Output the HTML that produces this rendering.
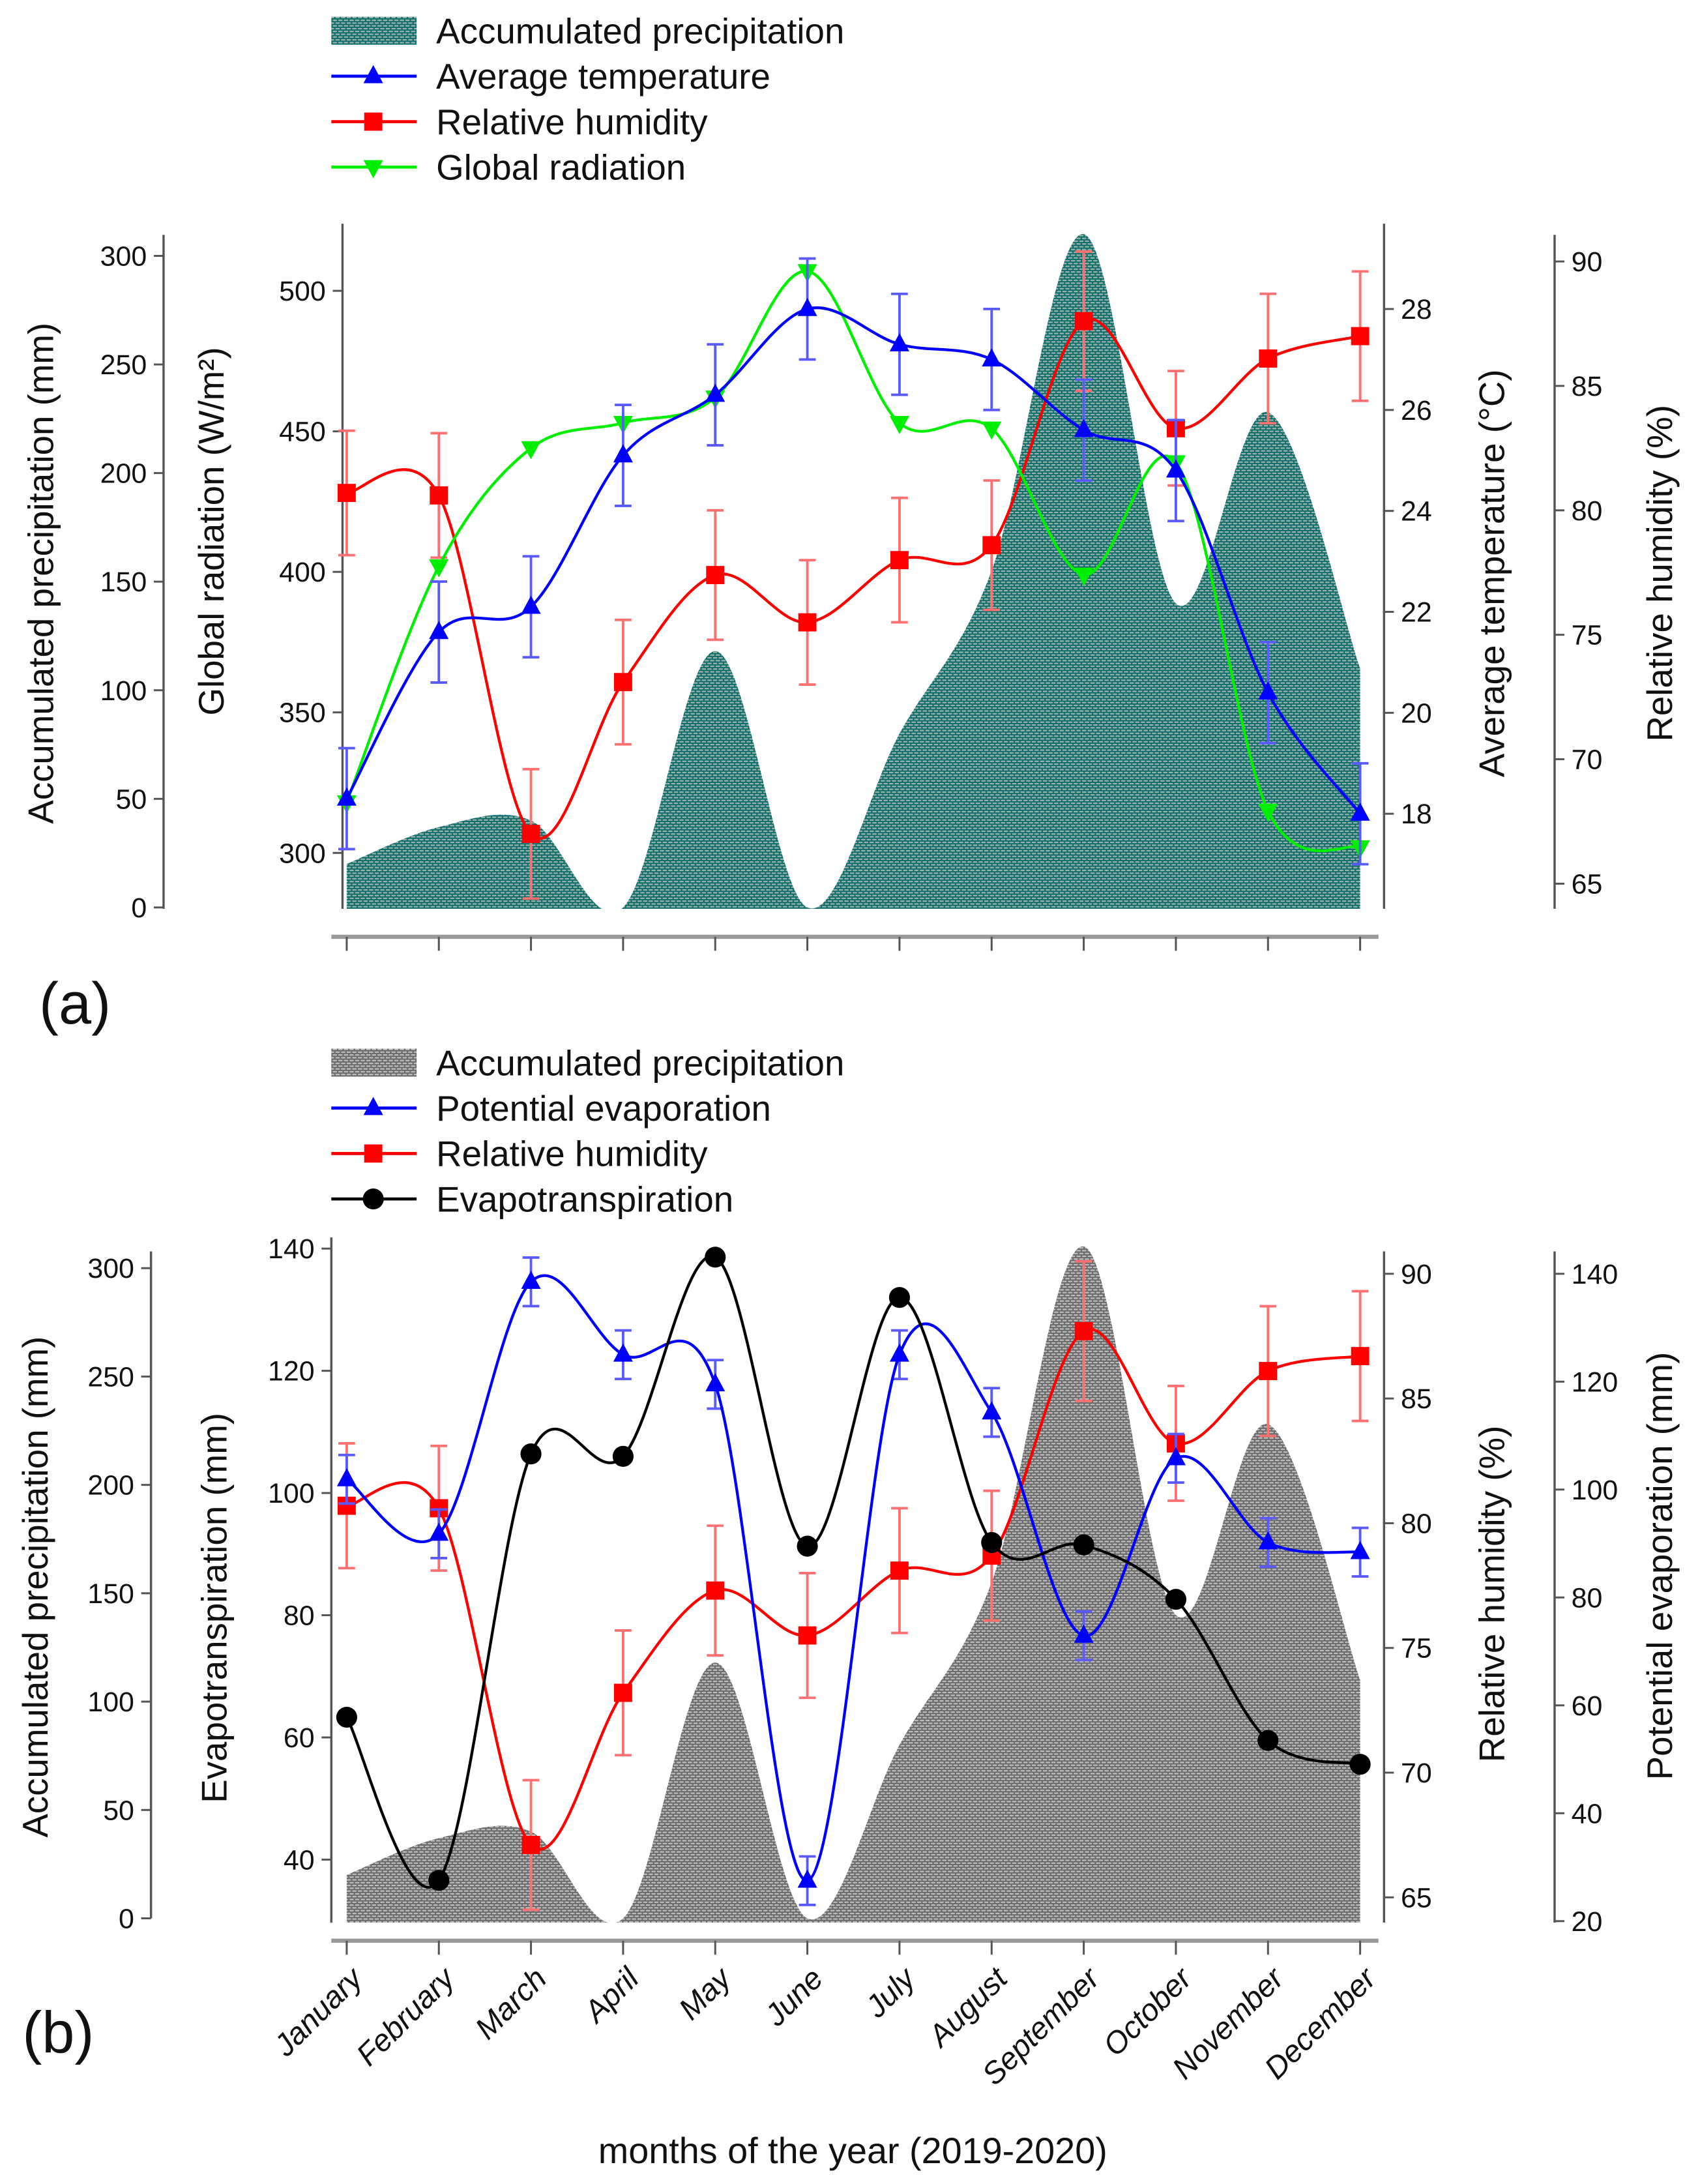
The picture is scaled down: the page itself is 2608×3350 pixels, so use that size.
<!DOCTYPE html>
<html><head><meta charset="utf-8">
<style>
html,body{margin:0;padding:0;background:#fff;}
svg{display:block;font-family:"Liberation Sans",Arial,sans-serif;}
</style></head>
<body>
<svg id="fig" width="2608" height="3350" viewBox="0 0 1216 1562" preserveAspectRatio="none" xmlns="http://www.w3.org/2000/svg">
<defs>
<pattern id="patTeal" width="4" height="4" patternUnits="userSpaceOnUse">
<rect width="4" height="4" fill="#0f6e68"/><rect x="0" y="0" width="3" height="1" fill="#9fb5b2"/><rect x="2" y="2" width="2" height="1" fill="#9fb5b2"/><rect x="0" y="2" width="1" height="1" fill="#9fb5b2"/>
</pattern>
<pattern id="patGrey" width="4" height="4" patternUnits="userSpaceOnUse">
<rect width="4" height="4" fill="#6a6a6a"/><rect x="0" y="0" width="3" height="1" fill="#c0c0c0"/><rect x="2" y="2" width="2" height="1" fill="#c0c0c0"/><rect x="0" y="2" width="1" height="1" fill="#c0c0c0"/>
</pattern>
</defs>
</svg>
<script>
// ---- data ----
const months = ["January","February","March","April","May","June","July","August","September","October","November","December"];
const precip = [20,37,40,0,118,0,80,155,310,140,228,110];
const tempA = [18.3,21.6,22.1,25.1,26.3,28.0,27.3,27.0,25.6,24.8,20.4,18.0];
const tempErr = [1,1,1,1,1,1,1,1,1,1,1,1];
const rhA = [80.7,80.6,67.0,73.1,77.4,75.5,78.0,78.6,87.6,83.3,86.1,87.0];
const rhErr = [2.5,2.5,2.6,2.5,2.6,2.5,2.5,2.6,2.8,2.3,2.6,2.6];
const radA = [318,402,444,453,462,507,453,451,399,439,315,302];
const peB = [101.9,91.8,138.5,125,119.5,27.5,125,114.3,72.9,105.8,90.2,88.4];
const peErr = [4.5,4.5,4.5,4.5,4.5,4.5,4.5,4.5,4.5,4.5,4.5,4.5];
const etB = [63.3,36.6,106.4,106,138.6,91.3,132,91.9,91.5,82.6,59.5,55.6];
const rhB = [80.7,80.6,67.1,73.2,77.3,75.5,78.1,78.7,87.7,83.2,86.1,86.7];
const precipTicks = [0,50,100,150,200,250,300];
const radTicks = [300,350,400,450,500];
const tempTicks = [18,20,22,24,26,28];
const rhTicks = [65,70,75,80,85,90];
const etTicks = [40,60,80,100,120,140];
const peTicks = [20,40,60,80,100,120,140];

const NS="http://www.w3.org/2000/svg";
const svg=document.getElementById('fig');
function el(tag,attrs,parent){const e=document.createElementNS(NS,tag);for(const k in attrs)e.setAttribute(k,attrs[k]);(parent||svg).appendChild(e);return e;}
function txt(s,attrs,parent){const e=el('text',attrs,parent);e.textContent=s;return e;}
const X=i=>248+i*65.9;
function lin(v0,p0,v1,p1){return v=>p0+(v-v0)*(p1-p0)/(v1-v0);}
function spline(pts){let d=`M${pts[0][0]},${pts[0][1]}`;for(let i=0;i<pts.length-1;i++){const p0=pts[i-1]||pts[i],p1=pts[i],p2=pts[i+1],p3=pts[i+2]||p2;const c1=[p1[0]+(p2[0]-p0[0])/6,p1[1]+(p2[1]-p0[1])/6],c2=[p2[0]-(p3[0]-p1[0])/6,p2[1]-(p3[1]-p1[1])/6];d+=` C${c1[0]},${c1[1]} ${c2[0]},${c2[1]} ${p2[0]},${p2[1]}`;}return d;}
function marker(g,type,x,y,c){
 if(type==='up')return el('polygon',{points:`${x},${y-8} ${x-7},${y+5} ${x+7},${y+5}`,fill:c},g);
 if(type==='down')return el('polygon',{points:`${x},${y+8} ${x-7},${y-5} ${x+7},${y-5}`,fill:c},g);
 if(type==='sq')return el('rect',{x:x-6.5,y:y-6.5,width:13,height:13,fill:c},g);
 return el('circle',{cx:x,cy:y,r:7.5,fill:c},g);
}
function series(name,vals,err,sc,color,type,lightC){
 const g=el('g',{});
 
 
 if(err){vals.forEach((v,i)=>{const x=X(i),a=sc(v+err[i]),b=sc(v-err[i]);
  el('path',{d:`M${x},${a}V${b}M${x-6},${a}H${x+6}M${x-6},${b}H${x+6}`,stroke:lightC,'stroke-width':1.8,fill:'none'},g);});}
 const pts=vals.map((v,i)=>[X(i),sc(v)]);
 el('path',{d:spline(pts),stroke:color,'stroke-width':2,fill:'none'},g);
 pts.forEach(p=>marker(g,type,p[0],p[1],color));
}
function area(name,sc,pat,yb){
 const pts=precip.map((v,i)=>[X(i),sc(v)]);
 let d=spline(pts);
 d+=` L${X(11)},${yb} L${X(0)},${yb} Z`;
 const cid='clip'+name;const cp=el('clipPath',{id:cid});el('rect',{x:0,y:0,width:1216,height:yb},cp);
 const p=el('path',{d:d,fill:`url(#${pat})`,'clip-path':`url(#${cid})`});
 
 
}
function axis(name,x,y0,y1,ticks,sc,side,fs){
 const g=el('g',{});
 
 
 el('line',{x1:x,y1:y0,x2:x,y2:y1,stroke:'#555','stroke-width':1.6},g);
 ticks.forEach(t=>{const y=sc(t);const dx=side==='L'?-7:7;
  el('line',{x1:x,y1:y,x2:x+dx,y2:y,stroke:'#555','stroke-width':1.4},g);
  txt(String(t),{x:side==='L'?x-12:x+12,y:y+7,'font-size':fs||20,'text-anchor':side==='L'?'end':'start',fill:'#111'},g);});
}
function vtitle(s,x,y,name){const t=txt(s,{x:x,y:y,'font-size':25.5,'text-anchor':'middle',transform:`rotate(-90 ${x} ${y})`,fill:'#111'});
 }
function legend(y0,items,name){
 const g=el('g',{});
 
 
 items.forEach((it,i)=>{const y=y0+i*32.5;
  if(it.type==='area')el('rect',{x:237,y:y-10,width:61,height:20,fill:`url(#${it.pat})`},g);
  else{el('line',{x1:237,y1:y,x2:298,y2:y,stroke:it.c,'stroke-width':2.2},g);marker(g,it.type,267,y,it.c);}
  txt(it.label,{x:312,y:y+9,'font-size':25.5,fill:'#111'},g);});
}
function xaxis(y,name,labels){
 const g=el('g',{});
 
 
 el('line',{x1:237,y1:y,x2:986,y2:y,stroke:'#999','stroke-width':3},g);
 months.forEach((m,i)=>{el('line',{x1:X(i),y1:y,x2:X(i),y2:y+10,stroke:'#555','stroke-width':1.4},g);
  if(labels){const lx=X(i)+4,ly=y+20;txt(m,{x:lx,y:ly+12,'font-size':22,'text-anchor':'end','font-style':'italic',transform:`rotate(-45 ${lx} ${ly})`,fill:'#111'},g);}});
}

// ===== Panel (a) =====
const pA=lin(0,649,300,183), radS=lin(300,610,500,208), tS=lin(18,582,28,221), rhS=lin(65,632,90,187);
legend(22,[{type:'area',pat:'patTeal',label:'Accumulated precipitation'},{type:'up',c:'#0000ff',label:'Average temperature'},{type:'sq',c:'#ff0000',label:'Relative humidity'},{type:'down',c:'#00ee00',label:'Global radiation'}],'legend-a');
area('precip-area-a',pA,'patTeal',650);
axis('precip-axis-a',117,168,650,precipTicks,pA,'L');
axis('radiation-axis-a',245,160,650,radTicks,radS,'L');
axis('temperature-axis-a',990,160,650,tempTicks,tS,'R');
axis('rh-axis-a',1112,168,650,rhTicks,rhS,'R');
series('rh-series-a',rhA,rhErr,rhS,'#ff0000','sq','#ff7070');
series('radiation-series-a',radA,null,radS,'#00ee00','down');
series('temperature-series-a',tempA,tempErr,tS,'#0000ff','up','#5a5aff');
xaxis(670,'x-axis-a',false);
vtitle('Accumulated precipitation (mm)',38,410,'precip-title-a');
vtitle('Global radiation (W/m²)',160,380,'radiation-title-a');
vtitle('Average temperature (°C)',1076,410,'temperature-title-a');
vtitle('Relative humidity (%)',1196,410,'rh-title-a');
{const t=txt('(a)',{x:28,y:732,'font-size':42,fill:'#111'});}

// ===== Panel (b) =====
const pB=lin(0,1372,300,907), etS=lin(40,1330,140,893), rhSB=lin(65,1357,90,911), peS=lin(20,1374,140,911);
legend(760,[{type:'area',pat:'patGrey',label:'Accumulated precipitation'},{type:'up',c:'#0000ff',label:'Potential evaporation'},{type:'sq',c:'#ff0000',label:'Relative humidity'},{type:'circ',c:'#000000',label:'Evapotranspiration'}],'legend-b');
area('precip-area-b',pB,'patGrey',1375);
axis('precip-axis-b',108,895,1372,precipTicks,pB,'L');
axis('et-axis-b',237,885,1375,etTicks,etS,'L');
axis('rh-axis-b',990,895,1375,rhTicks,rhSB,'R');
axis('pe-axis-b',1112,895,1375,peTicks,peS,'R');
series('rh-series-b',rhB,rhErr,rhSB,'#ff0000','sq','#ff7070');
series('pe-series-b',peB,peErr,peS,'#0000ff','up','#5a5aff');
series('et-series-b',etB,null,etS,'#000000','circ');
xaxis(1388,'x-axis-b',true);
vtitle('Accumulated precipitation (mm)',34,1135,'precip-title-b');
vtitle('Evapotranspiration (mm)',162,1150,'et-title-b');
vtitle('Relative humidity (%)',1076,1140,'rh-title-b');
vtitle('Potential evaporation (mm)',1196,1120,'pe-title-b');
{const t=txt('(b)',{x:16,y:1468,'font-size':42,fill:'#111'});}
{const t=txt('months of the year (2019-2020)',{x:610,y:1547,'font-size':26,'text-anchor':'middle',fill:'#111'});}
</script>
</body></html>
